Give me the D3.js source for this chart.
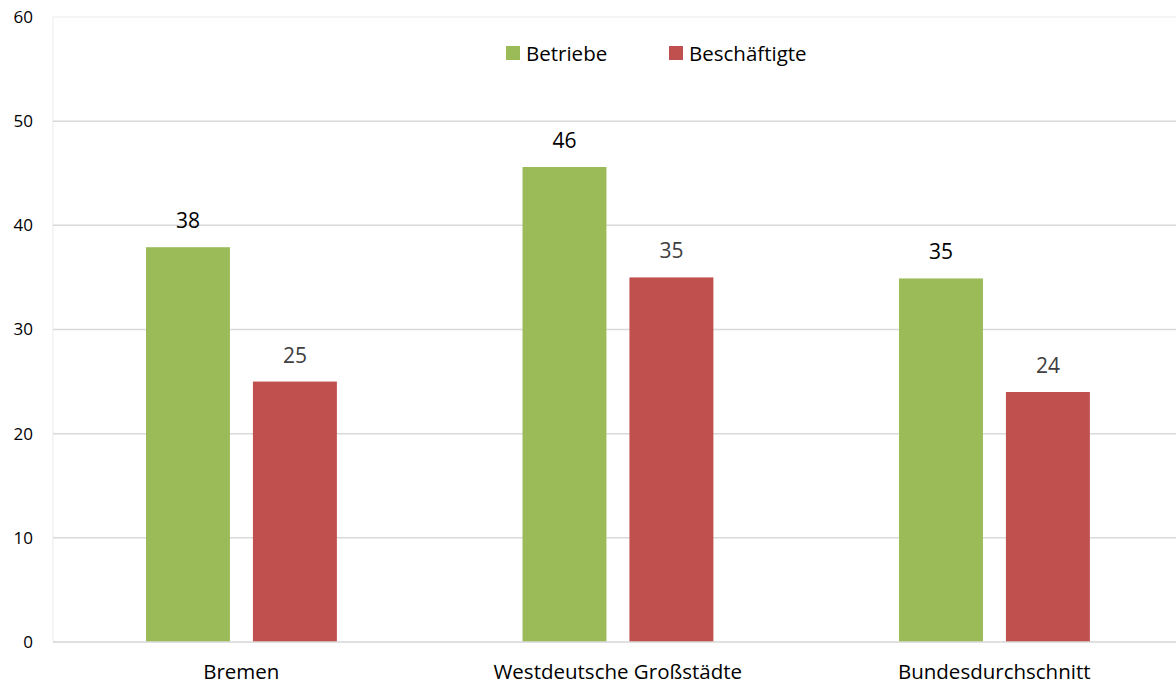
<!DOCTYPE html>
<html>
<head>
<meta charset="utf-8">
<script src="https://cdn.jsdelivr.net/npm/d3@7"></script>
<style>
  html, body { margin: 0; padding: 0; background: #fff; }
  svg { display: block; font-family: "Open Sans", "Noto Sans", sans-serif; }
</style>
</head>
<body>
<svg id="chart" width="1176" height="683"></svg>
<script>
const categories = ["Bremen", "Westdeutsche Großstädte", "Bundesdurchschnitt"];
const seriesNames = ["Betriebe", "Beschäftigte"];
const betriebe = [37.9, 45.6, 34.9];
const beschaeftigte = [25, 35, 24];
const yTicks = [0, 10, 20, 30, 40, 50, 60];
const colors = ["#9BBB59", "#C0504D"];
const labelColors = ["#000000", "#404040"];

const svg = d3.select("#chart");
const plot = { left: 53, right: 1182.5, top: 17, bottom: 642 };

const x = d3.scaleBand().domain(categories).range([plot.left, plot.right]).padding(0);
const y = d3.scaleLinear().domain([0, 60]).range([plot.bottom, plot.top]);
const inner = d3.scaleBand().domain(seriesNames)
  .range([x.bandwidth() * 0.247, x.bandwidth() * 0.754]).paddingInner(0.215);

// plot area outline
svg.append("rect")
  .attr("x", plot.left).attr("y", plot.top)
  .attr("width", plot.right - plot.left).attr("height", plot.bottom - plot.top)
  .attr("fill", "none").attr("stroke", "#f2f2f2").attr("stroke-width", 1.5);

// horizontal gridlines
svg.append("g").selectAll("line").data(yTicks.filter(d => d > 0 && d < 60)).join("line")
  .attr("x1", plot.left).attr("x2", plot.right)
  .attr("y1", d => y(d)).attr("y2", d => y(d))
  .attr("stroke", "#d9d9d9").attr("stroke-width", 1.5);

// y axis labels
const yAxis = d3.axisLeft(y).tickValues(yTicks).tickSize(0).tickPadding(20);
const yg = svg.append("g").attr("transform", `translate(${plot.left},0)`).call(yAxis);
yg.select(".domain").remove();
yg.selectAll("text").attr("font-size", 17).attr("fill", "#000")
  .attr("font-family", "'Open Sans', sans-serif");

// bars
const rows = categories.map((c, i) => ({ cat: c, vals: [betriebe[i], beschaeftigte[i]] }));
const groups = svg.append("g").selectAll("g").data(rows).join("g")
  .attr("transform", d => `translate(${x(d.cat)},0)`);

groups.selectAll("rect").data(d => d.vals.map((v, j) => ({ s: seriesNames[j], v, j }))).join("rect")
  .attr("x", d => inner(d.s)).attr("width", inner.bandwidth())
  .attr("y", d => y(d.v)).attr("height", d => y(0) - y(d.v))
  .attr("fill", d => colors[d.j]);

groups.selectAll("text").data(d => d.vals.map((v, j) => ({ s: seriesNames[j], v, j }))).join("text")
  .attr("x", d => inner(d.s) + inner.bandwidth() / 2)
  .attr("y", d => y(d.v) - 19)
  .attr("text-anchor", "middle").attr("font-size", 21)
  .attr("fill", d => labelColors[d.j])
  .text(d => d3.format(".0f")(d.v));

// baseline
svg.append("line").attr("x1", plot.left).attr("x2", plot.right)
  .attr("y1", y(0)).attr("y2", y(0)).attr("stroke", "#d9d9d9").attr("stroke-width", 1.5);

// x axis labels
const xAxis = d3.axisBottom(x).tickSize(0).tickPadding(22);
const xg = svg.append("g").attr("transform", `translate(0,${plot.bottom})`).call(xAxis);
xg.select(".domain").remove();
xg.selectAll("text").attr("font-size", 20.5).attr("fill", "#000")
  .attr("font-family", "'Open Sans', sans-serif");

// legend
const legendX = [506, 669];
const legend = svg.append("g").selectAll("g").data(seriesNames).join("g")
  .attr("transform", (d, i) => `translate(${legendX[i]},46)`);
legend.append("rect").attr("width", 14).attr("height", 14).attr("fill", (d, i) => colors[i]);
legend.append("text").attr("x", 20).attr("y", 14.5).attr("font-size", 20.5).attr("fill", "#000").text(d => d);
</script>
</body>
</html>
